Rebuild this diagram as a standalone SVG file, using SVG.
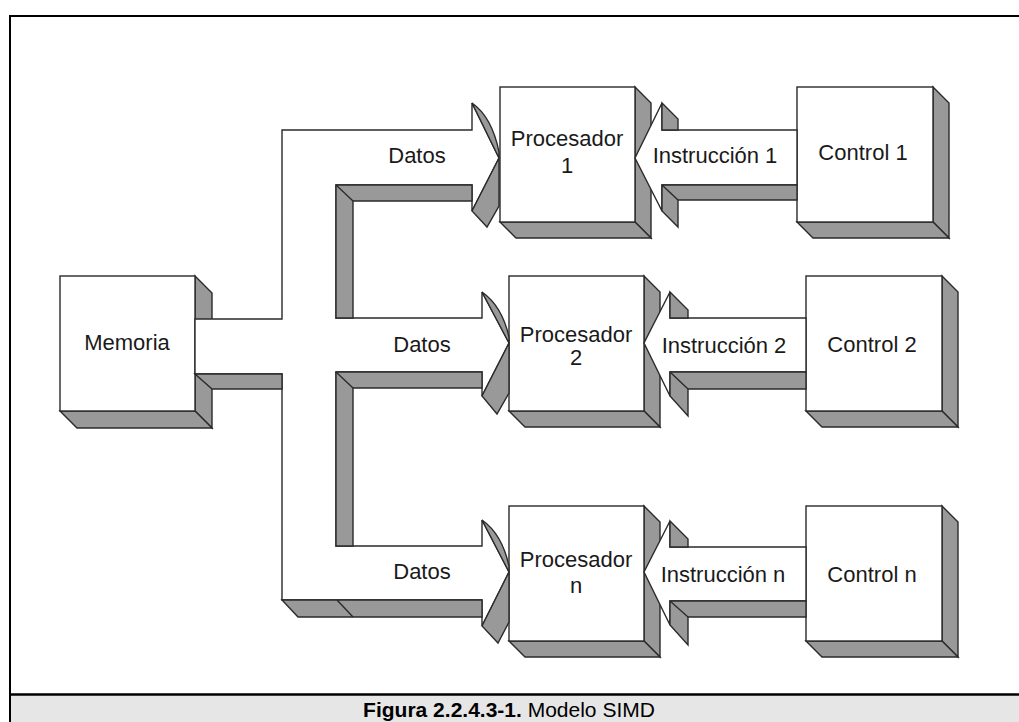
<svg xmlns="http://www.w3.org/2000/svg" width="1019" height="722" viewBox="0 0 1019 722">
<style>
.front{fill:#ffffff;stroke:#2a2a2a;stroke-width:1.4}
.face{fill:#999999;stroke:#2a2a2a;stroke-width:1.4;stroke-linejoin:miter}
.body{fill:#ffffff;stroke:#2a2a2a;stroke-width:1.4;stroke-linejoin:miter}
.sh{fill:#999999;stroke:#2a2a2a;stroke-width:1.4;stroke-linejoin:miter}
.ln{fill:none;stroke:#2a2a2a;stroke-width:1.4}
.lbl{font-family:"Liberation Sans",Arial,sans-serif;font-size:22px;fill:#1a1a1a;text-anchor:middle}
.cap{font-family:"Liberation Sans",Arial,sans-serif;font-size:21px;fill:#000;text-anchor:middle}
</style>
<rect x="0" y="0" width="1019" height="722" fill="#ffffff"/>
<rect x="10" y="16" width="1030" height="720" fill="none" stroke="#000" stroke-width="2"/>
<rect x="11" y="695" width="1010" height="30" fill="#e6e6e6"/>
<line x1="10" y1="694.5" x2="1019" y2="694.5" stroke="#000" stroke-width="2.5"/>

<g id="memoria">
<polygon class="face" points="195,276 212,293 212,428 195,411"/>
<polygon class="face" points="60,411 77,428 212,428 195,411"/>
<rect class="front" x="60" y="276" width="135" height="135"/>
<text class="lbl" x="127" y="350">Memoria</text>
</g>
<g id="procesador1">
<polygon class="face" points="635,87 651,103 651,238 635,222"/>
<polygon class="face" points="500,222 516,238 651,238 635,222"/>
<rect class="front" x="500" y="87" width="135" height="135"/>
<text class="lbl" x="567" y="146">Procesador</text>
<text class="lbl" x="567" y="173">1</text>
</g>
<g id="procesador2">
<polygon class="face" points="644,276 660,292 660,427 644,411"/>
<polygon class="face" points="509,411 525,427 660,427 644,411"/>
<rect class="front" x="509" y="276" width="135" height="135"/>
<text class="lbl" x="576" y="342">Procesador</text>
<text class="lbl" x="576" y="365">2</text>
</g>
<g id="procesadorn">
<polygon class="face" points="644,506 660,522 660,657 644,641"/>
<polygon class="face" points="509,641 525,657 660,657 644,641"/>
<rect class="front" x="509" y="506" width="135" height="135"/>
<text class="lbl" x="576" y="567">Procesador</text>
<text class="lbl" x="576" y="593">n</text>
</g>
<g id="control1">
<polygon class="face" points="933,87 949,103 949,238 933,222"/>
<polygon class="face" points="797,222 813,238 949,238 933,222"/>
<rect class="front" x="797" y="87" width="136" height="135"/>
<text class="lbl" x="863" y="160">Control 1</text>
</g>
<g id="control2">
<polygon class="face" points="942,276 958,292 958,427 942,411"/>
<polygon class="face" points="806,411 822,427 958,427 942,411"/>
<rect class="front" x="806" y="276" width="136" height="135"/>
<text class="lbl" x="872" y="352">Control 2</text>
</g>
<g id="controln">
<polygon class="face" points="942,506 958,522 958,657 942,641"/>
<polygon class="face" points="806,641 822,657 958,657 942,641"/>
<rect class="front" x="806" y="506" width="136" height="135"/>
<text class="lbl" x="872" y="582">Control n</text>
</g>

<g id="connectors">
<path class="body" d="M195,319 L282,319 L282,130 L472,130 L472,103 L499,158 L472,211 L472,185 L336,185 L336,318 L482,318 L482,292 L509,343 L482,396 L482,372 L336,372 L336,546 L482,546 L482,520 L509,572 L482,626 L482,600 L282,600 L282,374 L195,374 Z"/>
<path class="sh" d="M336,185 L472,185 L472,201 L353,201 L353,318 L336,318 Z"/>
<path class="ln" d="M336,185 L353,201"/>
<path class="sh" d="M336,372 L482,372 L482,388 L353,388 L353,546 L336,546 Z"/>
<path class="ln" d="M336,372 L353,388"/>
<path class="sh" d="M195,374 L282,374 L282,389 L212,389 Z"/>
<path class="sh" d="M282,600 L482,600 L482,617 L298,617 Z"/>
<path class="ln" d="M337,600 L353,617"/>
<path class="sh" d="M472,103 Q492,117 499,152 L499,158 Z"/>
<path class="sh" d="M499,158 L472,211 L487,227 L499,206 Z"/>
<path class="sh" d="M482,292 Q502,306 509,337 L509,343 Z"/>
<path class="sh" d="M509,343 L482,396 L497,414 L509,393 Z"/>
<path class="sh" d="M482,520 Q502,534 509,566 L509,572 Z"/>
<path class="sh" d="M509,572 L482,626 L498,643 L509,622 Z"/>

<path class="body" d="M797,130 L662,130 L662,103 L635,158 L662,211 L662,185 L797,185 Z"/>
<path class="sh" d="M662,103 L678,119 L678,130 L662,130 Z"/>
<path class="sh" d="M662,185 L797,185 L797,200 L678,200 L678,227 L662,211 Z"/>
<path class="ln" d="M662,185 L678,200"/>
<path class="body" d="M806,318 L670,318 L670,292 L644,343 L670,396 L670,372 L806,372 Z"/>
<path class="sh" d="M670,292 L688,310 L688,318 L670,318 Z"/>
<path class="sh" d="M670,372 L806,372 L806,389 L688,389 L688,416 L670,396 Z"/>
<path class="ln" d="M670,372 L688,389"/>
<path class="body" d="M806,547 L670,547 L670,521 L644,572 L670,625 L670,601 L806,601 Z"/>
<path class="sh" d="M670,521 L688,539 L688,547 L670,547 Z"/>
<path class="sh" d="M670,601 L806,601 L806,617 L688,617 L688,645 L670,625 Z"/>
<path class="ln" d="M670,601 L688,617"/>

<text class="lbl" x="417" y="163">Datos</text>
<text class="lbl" x="422" y="352">Datos</text>
<text class="lbl" x="422" y="579">Datos</text>
<text class="lbl" x="715" y="163">Instrucción 1</text>
<text class="lbl" x="724" y="353">Instrucción 2</text>
<text class="lbl" x="723" y="582">Instrucción n</text>
</g>

<text class="cap" x="509" y="717"><tspan font-weight="bold">Figura 2.2.4.3-1.</tspan> Modelo SIMD</text>
</svg>
